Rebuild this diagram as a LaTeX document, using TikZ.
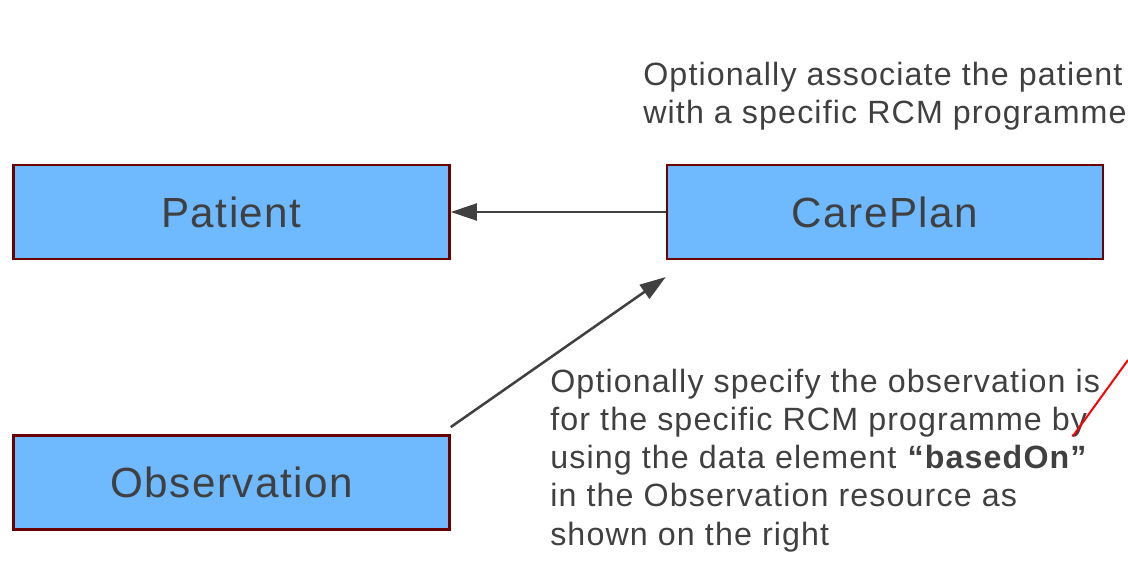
\documentclass[tikz,border=0pt]{standalone}
\usepackage{fontspec}
\setmainfont{Liberation Sans}[LetterSpace=3.5]
\usepackage{xcolor}
\usepackage{tikz}
\usetikzlibrary{arrows.meta}
\definecolor{boxblue}{HTML}{6FB9FF}
\definecolor{boxred}{HTML}{6A0000}
\definecolor{textgrey}{HTML}{404040}

\begin{document}
\begin{tikzpicture}[x=0.025cm,y=-0.025cm,
    class node/.style={rectangle,draw=boxred,fill=boxblue,line width=1.7pt,
      minimum width=10.9cm,minimum height=2.35cm,text=textgrey,
      font=\fontsize{30}{36}\selectfont},
    note/.style={align=left,text=textgrey,inner sep=0pt,
      font=\fontsize{22.9}{27.1}\selectfont},
    link/.style={draw=textgrey,line width=1.8pt,-{Triangle[length=0.65cm,width=0.42cm]}}]
        \useasboundingbox (0,0) rectangle (1128,563);
        \node[class node] (patient) at (231.5,212) {Patient};
        \node[class node] (careplan) at (885,212) {CarePlan};
        \node[class node] (observation) at (231.5,482.5) {Observation};
        \node[note,anchor=north west] (topnote) at (643,62)
          {Optionally associate the patient\\with a specific RCM programme};
        \node[note,anchor=north west] (basednote) at (550,369)
          {Optionally specify the observation is\\for the specific RCM programme by\\using the data element \textbf{``basedOn''}\\in the Observation resource as\\shown on the right};
        \coordinate (redstart) at (1073,436);
        \coordinate (redend) at (1128,360);
        \path
          (careplan) edge[link] (patient)
          ([yshift=0.18cm]observation.north east) edge[link] ([yshift=-0.42cm]careplan.south west);
        \draw[red,line width=1.4pt] (redstart) -- (redend);
      \end{tikzpicture}
\end{document}
